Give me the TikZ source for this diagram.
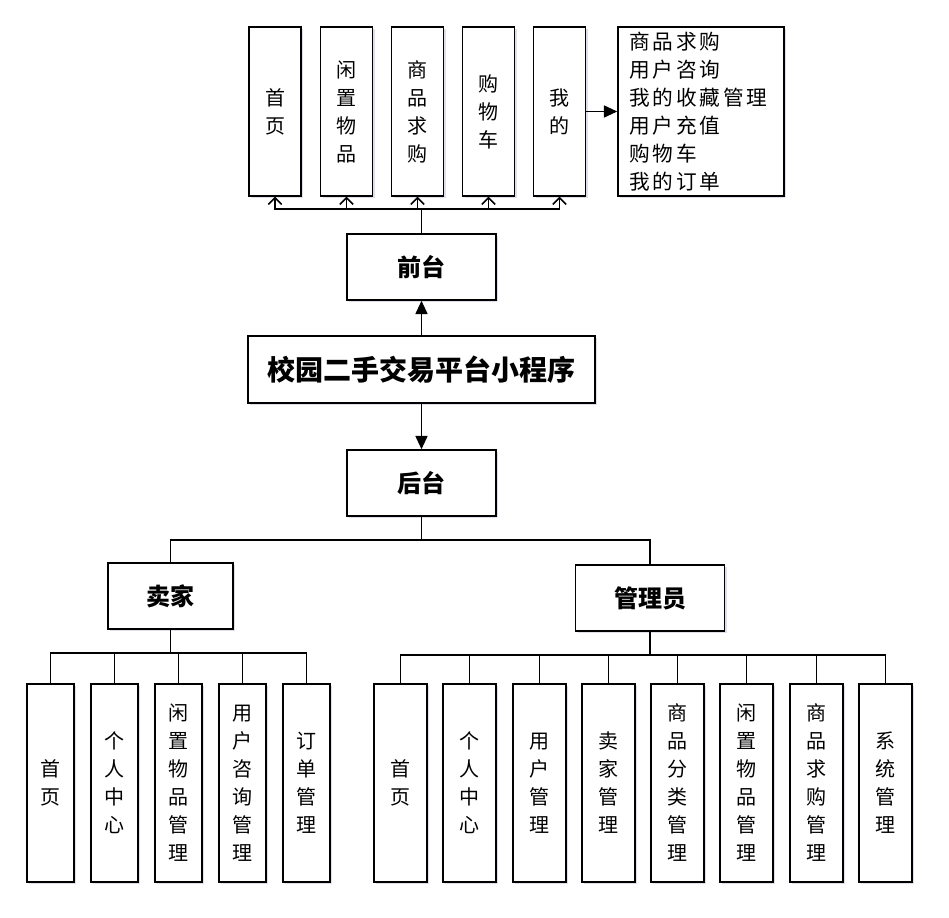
\documentclass[tikz,border=0pt]{standalone}
\usepackage{fontspec}
\newfontfamily\cjk{Noto Sans CJK SC}
\usetikzlibrary{arrows.meta,shadows}

\begin{document}
\begin{tikzpicture}[x=0.75pt,y=-0.75pt,
        box/.style={draw, line width=1.1pt, fill=white, inner sep=0pt, align=center,
            drop shadow={shadow xshift=1.5pt, shadow yshift=-1.5pt, fill=blue!25!gray, opacity=0.2}},
        head/.style={box, minimum width=111.75pt, minimum height=49.5pt,
            font=\cjk\bfseries\fontsize{18}{22}\selectfont},
        tall/.style={box, minimum width=39pt, minimum height=126.75pt,
            font=\cjk\fontsize{15}{21}\selectfont},
        low/.style={box, minimum height=148.5pt, font=\cjk\fontsize{15}{21}\selectfont},
        link/.style={line width=1.1pt},
        fat/.style={line width=1.3pt, -{Triangle[length=10pt,width=9pt]}},
        up/.style={line width=1.1pt, -{Straight Barb[length=5pt,width=10pt]}}
    ]
    \useasboundingbox (0,0) rectangle (949,917);

    % 中心
    \node[box, minimum width=260.25pt, minimum height=50.25pt,
        font=\cjk\bfseries\fontsize{21}{25}\selectfont] (main) at (421.5,369.5) {校园二手交易平台小程序};
    \node[head] (qt) at (421.5,267) {前台};
    \node[head] (ht) at (421.5,483) {后台};
    \draw[fat] (main.north) -- (qt.south);
    \draw[fat] (main.south) -- (ht.north);

    % 前台
    \node[tall] (t1) at (275,111.5) {首\\页};
    \node[tall] (t2) at (346.5,111.5) {闲\\置\\物\\品};
    \node[tall] (t3) at (417.5,111.5) {商\\品\\求\\购};
    \node[tall] (t4) at (488.5,111.5) {购\\物\\车};
    \node[tall] (t5) at (559.5,111.5) {我\\的};
    \node[box, minimum width=124.5pt, minimum height=126.75pt, align=left, text width=108pt,
        font=\cjk\addfontfeature{LetterSpace=14}\fontsize{15.5}{21}\selectfont] (mine) at (701,111.5)
        {商品求购\\用户咨询\\我的收藏管理\\用户充值\\购物车\\我的订单};
    \coordinate (tbus) at (421.5,209);
    \draw[link] (qt.north) -- (tbus);
    \foreach \i in {1,...,5}
        \draw[up] (tbus) -| (t\i.south);
    \draw[fat] (t5.east) -- (mine.west);

    % 后台
    \node[head, minimum width=93.75pt] (mj) at (170.5,596) {卖家};
    \node[head] (gly) at (650,598) {管理员};
    \coordinate (hbus) at (421.5,540);
    \draw[link] (ht.south) -- (hbus);
    \draw[link] (hbus) -| (mj.north);
    \draw[link] (hbus) -| (gly.north);

    % 卖家
    \node[low, minimum width=35.25pt] (l1) at (50.5,783) {首\\页};
    \node[low, minimum width=35.25pt] (l2) at (114.5,783) {个\\人\\中\\心};
    \node[low, minimum width=35.25pt] (l3) at (178.5,783) {闲\\置\\物\\品\\管\\理};
    \node[low, minimum width=35.25pt] (l4) at (242.5,783) {用\\户\\咨\\询\\管\\理};
    \node[low, minimum width=35.25pt] (l5) at (306.5,783) {订\\单\\管\\理};
    \coordinate (lbus) at (170.5,653);
    \draw[link] (mj.south) -- (lbus);
    \foreach \i in {1,...,5}
        \draw[link] (lbus) -| (l\i.north);

    % 管理员
    \node[low, minimum width=39.75pt] (r1) at (400.5,783) {首\\页};
    \node[low, minimum width=39.75pt] (r2) at (469.5,783) {个\\人\\中\\心};
    \node[low, minimum width=39.75pt] (r3) at (539.5,783) {用\\户\\管\\理};
    \node[low, minimum width=39.75pt] (r4) at (608.5,783) {卖\\家\\管\\理};
    \node[low, minimum width=39.75pt] (r5) at (677.5,783) {商\\品\\分\\类\\管\\理};
    \node[low, minimum width=39.75pt] (r6) at (746.5,783) {闲\\置\\物\\品\\管\\理};
    \node[low, minimum width=39.75pt] (r7) at (816.5,783) {商\\品\\求\\购\\管\\理};
    \node[low, minimum width=39.75pt] (r8) at (885.5,783) {系\\统\\管\\理};
    \coordinate (rbus) at (650,655);
    \draw[link] (gly.south) -- (rbus);
    \foreach \i in {1,...,8}
        \draw[link] (rbus) -| (r\i.north);
\end{tikzpicture}
\end{document}
